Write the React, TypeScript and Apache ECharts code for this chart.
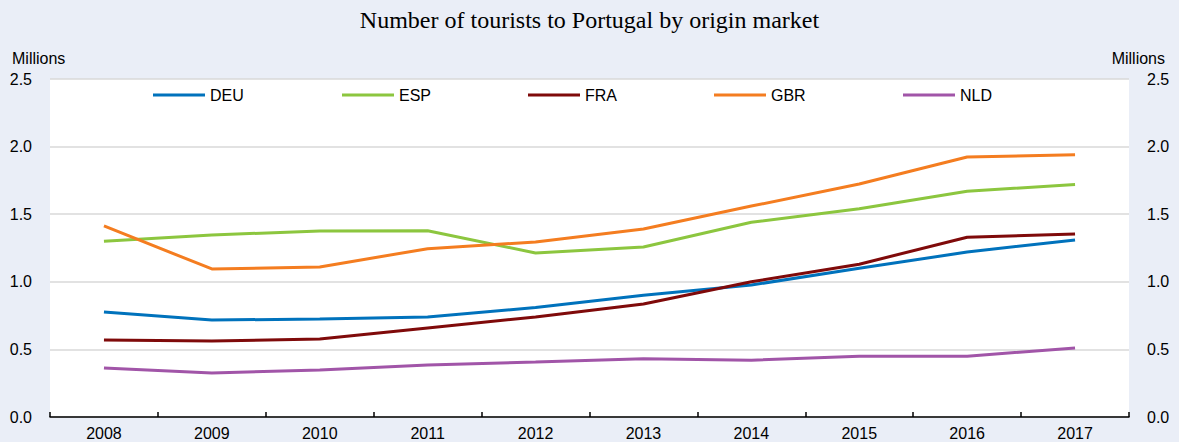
import React, { useEffect, useRef } from "react";
import * as echarts from "echarts";

const years = ["2008", "2009", "2010", "2011", "2012", "2013", "2014", "2015", "2016", "2017"];
const deu = [0.777, 0.717, 0.725, 0.74, 0.81, 0.9, 0.976, 1.1, 1.22, 1.31];
const esp = [1.3, 1.346, 1.376, 1.378, 1.213, 1.257, 1.44, 1.54, 1.67, 1.72];
const fra = [0.57, 0.562, 0.577, 0.658, 0.74, 0.836, 1.0, 1.13, 1.33, 1.354];
const gbr = [1.413, 1.095, 1.11, 1.245, 1.294, 1.39, 1.56, 1.723, 1.923, 1.94];
const nld = [0.362, 0.325, 0.348, 0.385, 0.407, 0.43, 0.42, 0.45, 0.45, 0.51];

const seriesNames = ["DEU", "ESP", "FRA", "GBR", "NLD"];
const seriesData = [deu, esp, fra, gbr, nld];
const colors = ["#0072bc", "#8cc63f", "#7f0a0a", "#f47d20", "#a155a8"];
const legendLefts = [153, 342, 528, 714, 903];

export default function App() {
  const ref = useRef<HTMLDivElement>(null);
  useEffect(() => {
    document.body.style.margin = "0";
    const chart = echarts.init(ref.current!, null, { renderer: "svg" });
    const font = "'Liberation Sans', Arial, sans-serif";
    chart.setOption({
      animation: false,
      backgroundColor: "#eaeef7",
      title: {
        text: "Number of tourists to Portugal by origin market",
        left: "center",
        top: 3,
        textStyle: { fontFamily: "'Liberation Serif', 'Times New Roman', serif", fontSize: 24, fontWeight: "normal", color: "#000" },
      },
      legend: seriesNames.map((n, i) => ({
        data: [n],
        left: legendLefts[i],
        top: 87,
        padding: 0,
        icon: "rect",
        itemWidth: 52,
        itemHeight: 3,
        itemGap: 5,
        textStyle: { fontFamily: font, fontSize: 16, color: "#000" },
        selectedMode: false,
      })),
      grid: { left: 50, right: 50, top: 79, bottom: 25, show: true, backgroundColor: "#ffffff", borderWidth: 0 },
      graphic: [
        { type: "text", left: 12, top: 50, style: { text: "Millions", fontFamily: font, fontSize: 16, fill: "#000" } },
        { type: "text", right: 14, top: 50, style: { text: "Millions", fontFamily: font, fontSize: 16, fill: "#000" } },
      ],
      xAxis: {
        type: "category",
        data: years,
        boundaryGap: true,
        axisLine: { show: true, lineStyle: { color: "#000", width: 1.5 } },
        axisTick: { show: true, inside: true, length: 5, lineStyle: { color: "#000", width: 1.5 } },
        axisLabel: { fontFamily: font, fontSize: 16, color: "#000", margin: 8 },
        splitLine: { show: false },
      },
      yAxis: [
        {
          type: "value",
          min: 0,
          max: 2.5,
          interval: 0.5,
          position: "left",
          axisLine: { show: false },
          axisTick: { show: false },
          axisLabel: { fontFamily: font, fontSize: 16, color: "#000", margin: 18, formatter: (v: number) => v.toFixed(1) },
          splitLine: { show: true, lineStyle: { color: "#d9d9d9", width: 1.5 } },
        },
        {
          type: "value",
          min: 0,
          max: 2.5,
          interval: 0.5,
          position: "right",
          axisLine: { show: false },
          axisTick: { show: false },
          axisLabel: { fontFamily: font, fontSize: 16, color: "#000", margin: 18, formatter: (v: number) => v.toFixed(1) },
          splitLine: { show: false },
        },
      ],
      series: seriesNames.map((n, i) => ({
        name: n,
        type: "line",
        data: seriesData[i],
        symbol: "none",
        itemStyle: { color: colors[i] },
        lineStyle: { color: colors[i], width: 3 },
      })),
    });
    return () => chart.dispose();
  }, []);
  return <div ref={ref} style={{ position: "fixed", left: 0, top: 0, width: 1179, height: 442 }} />;
}
